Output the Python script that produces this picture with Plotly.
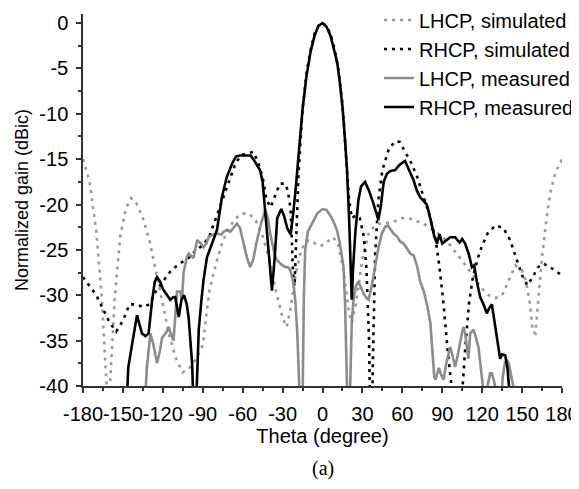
import plotly.graph_objects as go

# LHCP, simulated
theta_ls = [-180, -175, -170, -166, -163, -161, -159, -156, -152, -148, -144, -140, -135,
            -130, -125, -120, -115, -110, -105, -100, -95, -90, -85, -80, -75, -70, -65,
            -60, -55, -50, -45, -40, -35, -30, -27, -24, -20, -16, -12, -8, -4, 0, 4, 8,
            12, 16, 20, 22, 25, 30, 35, 40, 45, 50, 55, 60, 65, 70, 75, 80, 85, 90, 95,
            100, 105, 110, 115, 120, 125, 130, 135, 140, 145, 150, 153, 156, 158, 160,
            162, 165, 168, 171, 175, 180]
gain_ls = [-15, -17.5, -23, -30, -38, -43, -38, -30, -23.5, -20.5, -19.3, -19.8, -21.5,
           -24, -27.5, -31, -34.5, -37, -38.5, -38, -37, -35.5, -29.5, -26.5, -24, -22.5,
           -21.5, -21, -21, -21.8, -23.5, -26, -29.5, -32.5, -33.5, -31.5, -27.5, -25, -24,
           -24, -24.5, -24.5, -24, -23.6, -24.5, -27.5, -32, -33, -31, -26, -23, -22.3, -22,
           -22, -21.8, -21.5, -21.5, -21.8, -22, -22.5, -23, -23.5, -24.3, -25.2, -26.2,
           -27.2, -28.3, -29.3, -30, -30.3, -30, -28.3, -26.7, -27.3, -28.5, -31, -34,
           -34.2, -31, -25.8, -22, -18.8, -16.5, -15]

# RHCP, simulated
theta_rs = [-180, -175, -170, -165, -160, -155, -150, -145, -140, -135, -130, -125, -120,
            -115, -110, -105, -100, -95, -90, -85, -80, -75, -70, -65, -60, -55, -52, -48,
            -45, -42, -39, -35, -32, -28, -26, -24, -23, -22, -21, -20, -18, -15, -12, -9,
            -6, -3, 0, 3, 6, 9, 12, 15, 18, 20, 22, 25, 28, 31, 33, 35, 36, 37, 38, 39.6,
            42, 45, 50, 55, 58, 63, 67, 71, 75, 80, 85, 88, 91, 94, 97, 99, 103, 105, 107,
            110, 113, 117, 120, 124, 130, 136, 141, 146, 150, 154, 158, 162, 166, 171, 175,
            180]
gain_rs = [-28, -29, -30, -31.5, -33, -34, -32.8, -31, -31, -31.3, -31, -29.5, -28.5,
           -27.5, -26.8, -26.3, -25.8, -25, -24.5, -23.5, -21.5, -19.5, -17.3, -15.3, -14.5,
           -14.3, -14.2, -15.5, -17, -19.5, -20.3, -18.8, -17.7, -17.7, -18.5, -20.5, -25,
           -28, -29, -24.5, -16.5, -9.5, -5.5, -3, -1.2, -0.3, 0, -0.3, -1.2, -2.8, -5.2, -9,
           -15, -19.5, -21.5, -21.2, -21.5, -23.5, -27, -35, -45, -45, -36.4, -25.4, -19.5,
           -16.2, -13.8, -13, -13.1, -14.4, -15.5, -16.9, -18.8, -21, -23.8, -27, -31, -36,
           -40, -45, -45, -40, -36.4, -31, -28, -25.8, -24.5, -23.2, -22.3, -22.6, -23.9,
           -26.1, -27.8, -28.9, -28, -26.9, -26.5, -26.9, -27.3, -27.8]

# LHCP, measured
theta_lm = [-133.5, -132, -129.4, -127, -124.4, -122, -120.6, -117, -115.7, -114, -112,
            -110.5, -109.4, -107, -105.6, -104.4, -102, -100.6, -97, -95, -94.3, -92, -89.4,
            -87, -85.6, -82, -79.3, -76, -74.4, -71.8, -69.3, -66, -64.3, -62, -59.4, -56.5,
            -54.3, -52, -49.3, -46, -43, -41, -39.3, -36, -34.3, -31, -28, -26, -24.3, -22,
            -20.5, -19, -17.5, -16, -15, -14, -13, -11, -7.9, -4, 0, 3, 5.8, 8, 10.8, 13,
            15.8, 17, 18.4, 19.5, 20.8, 22, 23.3, 25, 27, 29, 30.8, 33, 34.6, 37, 39.6, 42,
            44.6, 47, 49, 51, 53.4, 56, 58.4, 61, 64, 66, 68.4, 71, 73.4, 76, 78.5, 81, 82.5,
            84, 85, 86.5, 87.5, 89, 91, 93, 96, 98, 99.7, 101.5, 103.5, 105, 106, 107.2,
            108.5, 109.7, 111, 113.5, 115, 117.2, 119, 121, 122, 124, 126, 127.3, 129, 131,
            134, 135.5, 137, 138.5, 140, 142, 144.8, 146]
gain_lm = [-42, -38, -34.2, -35.5, -37.5, -36, -34.7, -34, -33.5, -34.2, -35, -32, -29.6,
           -29.6, -30.5, -27.5, -25.8, -25.4, -25.9, -24.5, -23.9, -24.2, -24.7, -24.2, -23.6,
           -23.3, -23.2, -23.3, -23, -22.8, -23, -22.4, -22.1, -22.6, -24.3, -26, -26.9, -26,
           -24, -22, -20.6, -21.5, -23.2, -25.5, -26.1, -26.6, -26.9, -26.9, -27.2, -28.5,
           -30.5, -34, -40, -45, -42, -30, -25, -23, -22.1, -21, -20.5, -20.6, -21.2, -21.8,
           -22.8, -24.2, -26.9, -31, -40, -45, -40, -33, -30.5, -29, -28.5, -29.2, -29.8,
           -30.3, -30.5, -29, -26.9, -24.8, -23.2, -22.5, -22.3, -22.7, -23.2, -23.5, -24.1,
           -24.3, -24.9, -25.4, -25.6, -26.7, -28.5, -29.5, -31, -33, -36, -39, -39.3, -38.3,
           -38, -38.7, -39.3, -37.5, -35.7, -36.8, -37.9, -36.7, -35, -34, -33.5, -34.2,
           -35.7, -37, -34.2, -33.8, -34.5, -35.7, -38, -41, -42, -40, -38.6, -38.6, -39.5,
           -41, -42, -39, -37.5, -37.1, -37.5, -39, -41, -45]

# RHCP, measured
theta_rm = [-148, -146, -143, -141, -139.4, -137, -135.7, -133, -130.7, -128, -126, -124.4,
            -122, -120, -117, -114.4, -112, -110.7, -108, -106, -104, -102, -100.6, -98, -97,
            -95, -94, -93, -91, -89.4, -86.8, -83, -79.3, -75.6, -72, -68, -65, -62, -58,
            -54, -52, -49, -47, -45, -43, -40, -38, -36, -34, -31, -29, -26.5, -24, -22, -20,
            -18, -15, -12, -9, -6, -3, 0, 3, 6, 9, 11, 13, 15, 17, 18.3, 20, 21, 22, 23,
            24.6, 27, 29, 32, 35, 38.3, 42, 44, 46, 48.4, 51, 54.6, 58, 62, 65, 68.4, 71,
            73.4, 76, 78.4, 81, 84, 86, 88, 90, 93.5, 96, 99.7, 103, 105, 107.2, 110, 112.3,
            114, 116, 118.5, 121, 123.5, 125, 127.3, 130, 133.5, 135, 137.3, 139, 141, 143]
gain_rm = [-45, -38, -35.3, -33.5, -32.2, -33.5, -34.2, -34.5, -34.2, -30.5, -28.5, -28,
           -28.5, -29.3, -30, -30.5, -30.2, -30.2, -32.4, -30.5, -30, -31, -32.5, -37.5, -42,
           -42, -38, -33.8, -30.5, -28.3, -25.8, -24.3, -22.8, -19.2, -17, -15.5, -14.7,
           -14.6, -14.6, -14.6, -15, -15.7, -16.2, -17.5, -20.6, -26, -29.5, -26, -21.5,
           -20.5, -21.2, -22.6, -23.3, -21, -18, -14.5, -9.5, -5.8, -3.2, -1.4, -0.3, 0,
           -0.4, -1.4, -3, -4.3, -6.5, -9.2, -13, -15.9, -21.5, -26, -30.5, -27, -23.2,
           -19.5, -18, -17.5, -18.5, -19.9, -21.7, -20, -17.5, -16.6, -16.3, -16.2, -15.6,
           -15.2, -16.2, -17.3, -18.5, -19.2, -19.6, -20, -21.5, -23.5, -24.3, -23.3, -24.3,
           -23.9, -23.6, -23.6, -24.2, -23.8, -24.3, -25.5, -26.9, -26.7, -28.5, -30.2, -31,
           -32, -31.5, -31, -33.5, -37, -36.5, -36.6, -38, -41, -45]

x_ticks = list(range(-180, 181, 30))
y_ticks = list(range(-40, 1, 5))

series = [
    ("LHCP, simulated", theta_ls, gain_ls, "#999999", "3px,5px"),
    ("RHCP, simulated", theta_rs, gain_rs, "#000000", "3px,5px"),
    ("LHCP, measured", theta_lm, gain_lm, "#8c8c8c", "solid"),
    ("RHCP, measured", theta_rm, gain_rm, "#000000", "solid"),
]

FONT = "Liberation Sans, Arial"

fig = go.Figure()
for name, x, y, color, dash in series:
    fig.add_trace(go.Scatter(
        x=x, y=y, name=name, mode="lines",
        line=dict(color=color, width=2.6, dash=dash),
    ))

axis_style = dict(
    showline=True, linecolor="#333333", linewidth=1.5,
    ticks="outside", ticklen=5, tickwidth=1.5, tickcolor="#333333",
    showgrid=False, zeroline=False, automargin=False,
    tickfont=dict(family=FONT, size=20, color="#000"),
)

# the page body has an 8px margin, so the figure is laid out 8px smaller
fig.update_xaxes(
    range=[-180, 180], domain=[0, 479 / 496],
    tickmode="array", tickvals=x_ticks, ticktext=[str(v) for v in x_ticks],
    tickangle=0, ticklabelstandoff=4,
    minor=dict(dtick=15, ticks="outside", ticklen=3, tickcolor="#333333", tickwidth=1.5),
    title=dict(text="Theta (degree)", standoff=2,
               font=dict(family=FONT, size=20, color="#000")),
    **axis_style,
)
fig.update_yaxes(
    range=[-40, 1], domain=[0, 372 / 378],
    tickmode="array", tickvals=y_ticks, ticktext=[str(v) for v in y_ticks],
    ticklabelstandoff=4,
    minor=dict(dtick=2.5, ticks="outside", ticklen=3, tickcolor="#333333", tickwidth=1.5),
    title=dict(text="Normalized gain (dBic)", standoff=6,
               font=dict(family=FONT, size=18, color="#000")),
    **axis_style,
)

fig.add_annotation(
    text="(a)", x=0.483, y=-0.217, xref="paper", yref="paper",
    xanchor="center", yanchor="middle", showarrow=False,
    font=dict(family="Liberation Serif, Times New Roman", size=20, color="#000"),
)

fig.update_layout(
    width=571, height=481,
    margin=dict(l=75, r=0, t=0, b=103, autoexpand=False),
    plot_bgcolor="white", paper_bgcolor="white",
    showlegend=True,
    legend=dict(
        x=1, xanchor="right", y=1.02, yanchor="top",
        bgcolor="rgba(0,0,0,0)",
        font=dict(family=FONT, size=20, color="#000"),
        tracegroupgap=0,
    ),
)

fig.write_html("out.html")
